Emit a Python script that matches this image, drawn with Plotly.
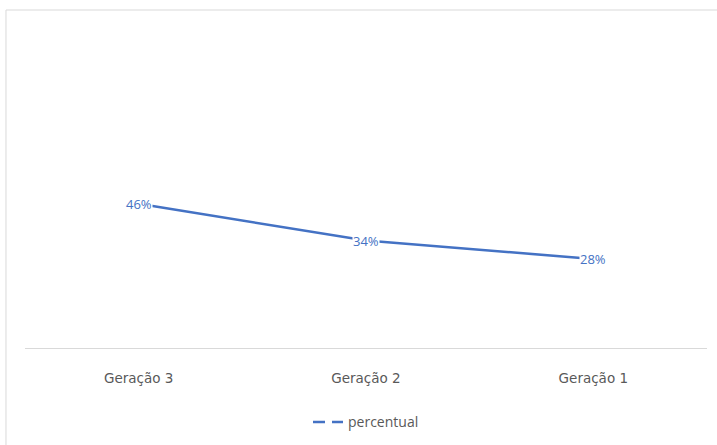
import plotly.graph_objects as go

# Share by generation
geracoes = ["Geração 3", "Geração 2", "Geração 1"]
percentual = [46, 34, 28]

LINE_BLUE = "#4472C4"
GRAY_TEXT = "#595959"

fig = go.Figure()

fig.add_trace(go.Scatter(
    x=geracoes,
    y=percentual,
    mode="lines",
    line=dict(color=LINE_BLUE, width=2.5),
    showlegend=False,
    hoverinfo="x+y",
))

# Legend entry drawn with a broken-line sample
fig.add_trace(go.Scatter(
    x=[None],
    y=[None],
    mode="lines",
    name="percentual",
    line=dict(color=LINE_BLUE, width=2.5, dash="12px,7px"),
))

# Value labels centred on each point, masking the line behind them
for g, v in zip(geracoes, percentual):
    fig.add_annotation(
        x=g, y=v, text=f"{v}%", showarrow=False,
        font=dict(family="Open Sans", size=13, color=LINE_BLUE),
        bgcolor="white", borderpad=0,
        xanchor="center", yanchor="middle",
    )

# Light chart-area frame
fig.add_shape(
    type="rect", xref="paper", yref="paper",
    x0=-0.0279, x1=1.2, y0=-0.6, y1=1.0903,
    line=dict(color="#D9D9D9", width=1), fillcolor="rgba(0,0,0,0)",
    layer="below",
)

fig.update_layout(
    width=717,
    height=445,
    margin=dict(l=25, r=10, t=38, b=97, autoexpand=False),
    paper_bgcolor="white",
    plot_bgcolor="white",
    font=dict(family="DejaVu Sans", color=GRAY_TEXT),
    xaxis=dict(
        type="category",
        range=[-0.5, 2.5],
        showline=True,
        linecolor="#D9D9D9",
        linewidth=1,
        showgrid=False,
        zeroline=False,
        ticks="outside",
        ticklen=18,
        tickcolor="rgba(0,0,0,0)",
        tickfont=dict(family="DejaVu Sans", size=13.5, color=GRAY_TEXT),
        fixedrange=True,
    ),
    yaxis=dict(
        range=[-1, 100],
        visible=False,
        showgrid=False,
        zeroline=False,
        fixedrange=True,
    ),
    legend=dict(
        orientation="h",
        x=0.5, xanchor="center",
        y=-0.24, yanchor="middle",
        font=dict(family="Open Sans", size=14, color=GRAY_TEXT),
        itemwidth=30,
    ),
)

fig.write_html("out.html")
